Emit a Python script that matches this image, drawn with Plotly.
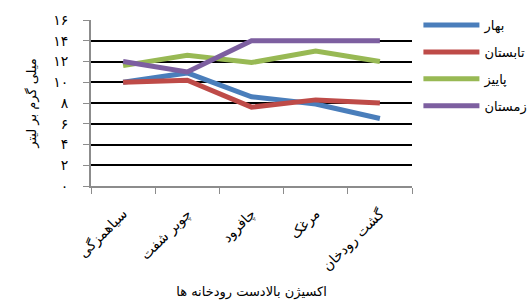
import plotly.graph_objects as go

categories = ["سیاهمزگی", "چوبر شفت", "چافرود", "مرغک", "گشت رودخان"]
series_names = ["بهار", "تابستان", "پاییز", "زمستان"]
spring = [10.0, 10.9, 8.6, 7.9, 6.5]
summer = [10.0, 10.2, 7.6, 8.3, 8.0]
autumn = [11.6, 12.6, 11.9, 13.0, 12.0]
winter = [12.0, 11.0, 14.0, 14.0, 14.0]
colors = ["#4A7EBB", "#BE4B48", "#98B954", "#7D5FA0"]
y_tickvals = [0, 2, 4, 6, 8, 10, 12, 14, 16]
y_ticktext = ["۰", "۲", "۴", "۶", "۸", "۱۰", "۱۲", "۱۴", "۱۶"]
x_title = "اکسیژن بالادست رودخانه ها"
y_title = "میلی گرم بر لیتر"

FONT = "DejaVu Sans"
fig = go.Figure()
for i, (name, vals) in enumerate(zip(series_names, [spring, summer, autumn, winter])):
    fig.add_trace(go.Scatter(
        x=categories, y=vals, mode="lines", name=name,
        line=dict(color=colors[i], width=5), legendgroup=str(i),
    ))

fig.update_layout(
    width=530, height=305,
    margin=dict(l=91, r=118, t=20, b=119, autoexpand=False),
    paper_bgcolor="white", plot_bgcolor="white",
    font=dict(family=FONT, color="black", size=12),
    showlegend=True,
    legend=dict(x=1.02, y=1.06, xanchor="left", yanchor="top",
                font=dict(size=13, family=FONT), itemwidth=56,
                tracegroupgap=7, traceorder="grouped",
                bgcolor="rgba(0,0,0,0)"),
)
fig.update_xaxes(
    type="category", showgrid=False, showline=True, linecolor="#8C8C8C", linewidth=2,
    ticks="outside", tickson="boundaries", ticklen=6, tickcolor="#8C8C8C", tickwidth=1,
    tickangle=-45, tickfont=dict(size=14, family=FONT), ticklabelstandoff=12,
    automargin=False,
    title=dict(text=x_title, font=dict(size=13, family=FONT), standoff=14),
    range=[-0.5, len(categories) - 0.5],
)
fig.update_yaxes(
    range=[0, 16], tickvals=y_tickvals, ticktext=y_ticktext,
    showgrid=True, gridcolor="black", gridwidth=2,
    showline=True, linecolor="#8C8C8C", linewidth=2, zeroline=False,
    ticks="outside", ticklen=6, tickcolor="#8C8C8C", tickwidth=1,
    ticklabelstandoff=12, tickfont=dict(size=14, family=FONT), automargin=False,
    title=dict(text=y_title, font=dict(size=13, family=FONT), standoff=14),
)
fig.write_html("out.html", config={"displayModeBar": False})

with open("out.html", "r", encoding="utf-8") as f:
    html = f.read()
html = html.replace("<head>", "<head><style>html,body{margin:0;padding:0;overflow:hidden;}</style>", 1)
with open("out.html", "w", encoding="utf-8") as f:
    f.write(html)
